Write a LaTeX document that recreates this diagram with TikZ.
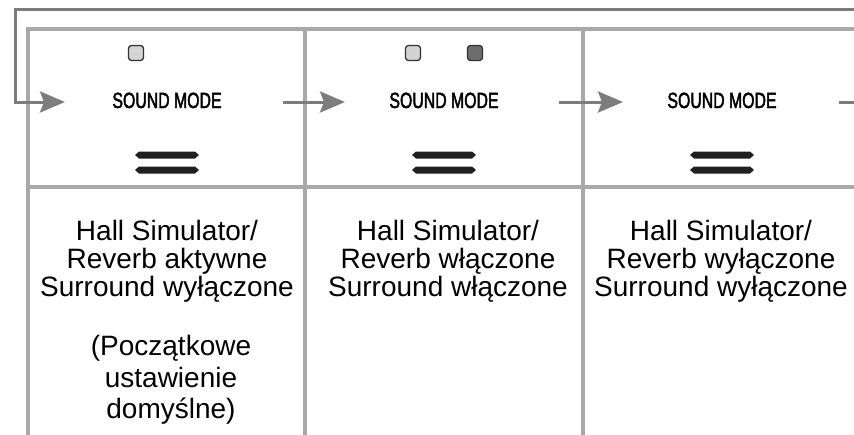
\documentclass[tikz,border=0pt]{standalone}
\usepackage{fontspec}
\setmainfont{Liberation Sans}
\newfontfamily\panelfont[FakeStretch=0.72,FakeBold=2]{Liberation Sans}
\usetikzlibrary{arrows.meta,positioning}

\definecolor{framegray}{HTML}{A9A9A9}
\definecolor{arrowgray}{HTML}{7D7D7D}
\definecolor{ledlight}{HTML}{D3D3D3}
\definecolor{leddark}{HTML}{6D6D6D}
\definecolor{barink}{HTML}{231F20}

\tikzset{
  frame/.style={draw=framegray, line width=4pt},
  flow/.style={draw=arrowgray, line width=3pt, -{Stealth[length=25pt, width=21pt, inset=4pt]}},
  led/.style={draw=black!80, line width=1.3pt, rounded corners=3pt, minimum size=15pt, inner sep=0pt},
  panel/.style={font=\panelfont\fontsize{22}{22}\selectfont, inner sep=0pt, anchor=base},
  state/.style={font=\fontsize{28}{28}\selectfont, align=center, inner sep=0pt, anchor=north},
}

\begin{document}
\begin{tikzpicture}[x=1pt, y=-1pt]
    \useasboundingbox (0,0) rectangle (854,434);

    % grid of the three panels
    \draw[frame] (28,440) -- (28,29) -- (880,29);
    \draw[frame] (28,187) -- (880,187);
    \draw[frame] (305,29) -- (305,440);
    \draw[frame] (583,29) -- (583,440);

    % button labels and lamps
    \node[panel] (sm1) at (167,108) {SOUND MODE};
    \node[panel] (sm2) at (444,108) {SOUND MODE};
    \node[panel] (sm3) at (722,108) {SOUND MODE};

    \node[led, fill=ledlight] (led1a) at (136,53) {};
    \node[led, fill=ledlight] (led2a) at (413,53) {};
    \node[led, fill=leddark] (led2b) at (475,53) {};

    % the two bars under each label
    \foreach \cx in {167,444,722} {
        \foreach \by in {155,170} {
            \fill[barink] (\cx-32,\by) -- (\cx-28,\by-3.5) -- (\cx+28,\by-3.5)
                -- (\cx+32,\by) -- (\cx+28,\by+3.5) -- (\cx-28,\by+3.5) -- cycle;
        }
    }

    % arrows from one panel to the next
    \coordinate (ret) at (880,9);
    \coordinate (down) at (15,102);
    \coordinate (in1) at (65,102);
    \coordinate (out1) at (283,102);
    \coordinate (in2) at (345,102);
    \coordinate (out2) at (559,102);
    \coordinate (in3) at (623,102);
    \coordinate (out3) at (839,102);
    \coordinate (off3) at (880,102);

    \draw[flow] (ret) -| (down) -- (in1);
    \draw[flow] (out1) -- (in2);
    \draw[flow] (out2) -- (in3);
    \draw[flow, -] (out3) -- (off3);

    % settings
    \node[state] (st1) at (167,220.5) {Hall Simulator/\\Reverb aktywne\\Surround wyłączone};
    \node[state, font=\fontsize{28}{31.5}\selectfont] (note1) at (171,335.5) {(Początkowe\\ustawienie\\domyślne)};
    \node[state] (st2) at (448,220.5) {Hall Simulator/\\Reverb włączone\\Surround włączone};
    \node[state] (st3) at (721,220.5) {Hall Simulator/\\Reverb wyłączone\\Surround wyłączone};
\end{tikzpicture}
\end{document}
